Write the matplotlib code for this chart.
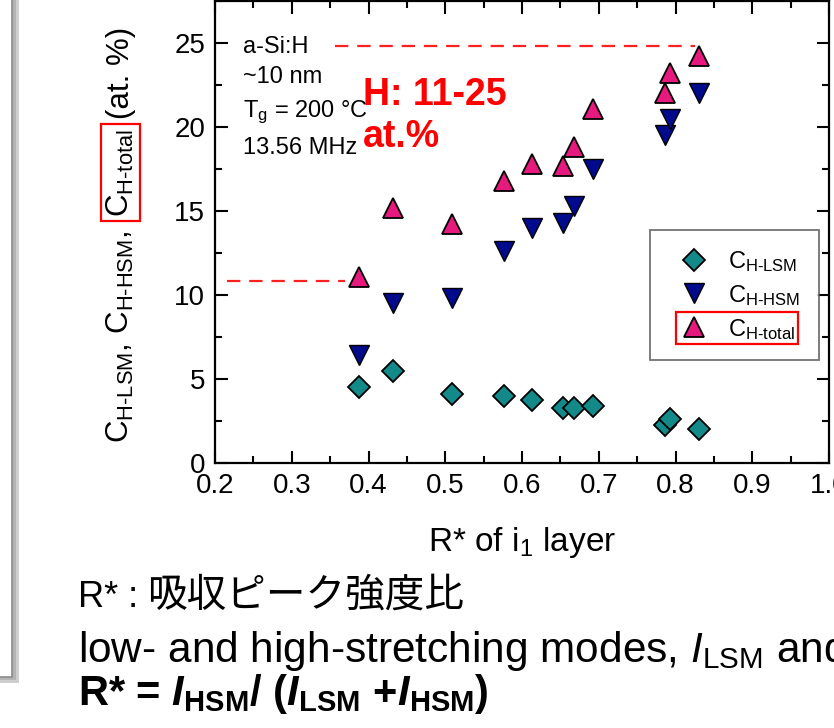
import matplotlib
matplotlib.use('Agg')
import matplotlib.pyplot as plt
from matplotlib.patches import Rectangle
from matplotlib.ticker import MultipleLocator, FormatStrFormatter

plt.rcParams['font.family'] = ['Liberation Sans', 'Noto Sans CJK JP', 'DejaVu Sans']
plt.rcParams['mathtext.fontset'] = 'custom'
plt.rcParams['mathtext.rm'] = 'Liberation Sans'
plt.rcParams['mathtext.sf'] = 'Liberation Sans'
plt.rcParams['mathtext.it'] = 'Liberation Sans:italic'
plt.rcParams['mathtext.bf'] = 'Liberation Sans:bold'
plt.rcParams['mathtext.bfit'] = 'Liberation Sans:italic:bold'

# ---------------- data ----------------
r_star = [0.388, 0.432, 0.509, 0.577, 0.613, 0.653, 0.668, 0.692, 0.786, 0.793, 0.830]
c_lsm = [4.5, 5.5, 4.1, 4.0, 3.75, 3.3, 3.3, 3.4, 2.25, 2.6, 2.0]
c_hsm = [6.4, 9.5, 9.85, 12.6, 14.0, 14.3, 15.3, 17.5, 19.5, 20.5, 22.0]
c_total = [11.1, 15.2, 14.2, 16.8, 17.8, 17.7, 18.8, 21.05, 22.0, 23.2, 24.2]

series_labels = [r'C$_{\text{H-LSM}}$', r'C$_{\text{H-HSM}}$', r'C$_{\text{H-total}}$']
x_ticks = [0.2, 0.3, 0.4, 0.5, 0.6, 0.7, 0.8, 0.9, 1.0]
y_ticks = [0, 5, 10, 15, 20, 25]

# guide lines (H range 11-25 at.%)
upper_line_y = 24.8
upper_line_x = [0.356, 0.826]
lower_line_y = 10.83
lower_line_x = [0.216, 0.369]

W, H = 834, 728
fig = plt.figure(figsize=(W / 100, H / 100), dpi=100)
fig.patch.set_facecolor('white')

def fx(px):
    return px / W

def fy(py):
    return 1 - py / H

# slide box edge on the left
shadow = Rectangle((fx(-50), fy(683)), fx(50 + 19), fy(-20) - fy(683),
                   transform=fig.transFigure, facecolor='#cfcfcf', edgecolor='none', zorder=0)
fig.patches.append(shadow)
shadow2 = Rectangle((fx(-50), fy(680)), fx(50 + 16), fy(-20) - fy(680),
                    transform=fig.transFigure, facecolor='#b4b4b4', edgecolor='none', zorder=0)
fig.patches.append(shadow2)
box = Rectangle((fx(-50), fy(677)), fx(50 + 12), fy(-20) - fy(677),
                transform=fig.transFigure, facecolor='white', edgecolor='#8a8a8a', lw=1.2, zorder=1)
fig.patches.append(box)

ax = fig.add_axes([fx(215), fy(463), fx(829 - 215), (463 - 1) / H])
ax.set_xlim(0.2, 1.0)
ax.set_ylim(0, 27.5)

teal = '#13898a'
navy = '#000a8c'
pink = '#e6197f'

l1, = ax.plot(r_star, c_lsm, linestyle='none', marker='D', ms=11, mfc=teal, mec='black', mew=1.3,
              label=series_labels[0], zorder=3)
l2, = ax.plot(r_star, c_hsm, linestyle='none', marker='v', ms=15, mfc=navy, mec='black', mew=1.0,
              label=series_labels[1], zorder=3)
l3, = ax.plot(r_star, c_total, linestyle='none', marker='^', ms=15, mfc=pink, mec='black', mew=1.3,
              label=series_labels[2], zorder=4)

ax.plot(upper_line_x, [upper_line_y] * 2, color='#ff2020', lw=1.6, dashes=(6, 4), zorder=2)
ax.plot(lower_line_x, [lower_line_y] * 2, color='#ff2020', lw=1.6, dashes=(6, 4), zorder=2)

ax.set_xticks(x_ticks)
ax.set_yticks(y_ticks)
ax.xaxis.set_minor_locator(MultipleLocator(0.05))
ax.yaxis.set_minor_locator(MultipleLocator(2.5))
ax.xaxis.set_major_formatter(FormatStrFormatter('%.1f'))
ax.yaxis.set_major_formatter(FormatStrFormatter('%d'))
ax.tick_params(which='both', direction='in', top=True, right=True, width=1.5, colors='black')
ax.tick_params(which='major', length=9, labelsize=20, pad=7)
ax.tick_params(which='minor', length=5)
for s in ax.spines.values():
    s.set_linewidth(1.6)

ax.set_xlabel(r'R* of i$_\mathregular{1}$ layer', fontsize=24)
ax.xaxis.set_label_coords(0.5, (463 - 525) / 462)
ax.xaxis.label.set_va('top')

# annotations
ann_x = (243 - 215) / 614
for txt, by in [('a-Si:H', 53), ('~10 nm', 83), (r'T$_\mathregular{g}$ = 200 °C', 117), ('13.56 MHz', 154)]:
    ax.text(ann_x, (463 - by) / 462, txt, transform=ax.transAxes, fontsize=17, va='baseline', ha='left')
ax.text((363 - 215) / 614, (463 - 105) / 462, 'H: 11-25', transform=ax.transAxes, fontsize=27,
        fontweight='bold', color='#ff0000', va='baseline', ha='left')
ax.text((363 - 215) / 614, (463 - 147) / 462, 'at.%', transform=ax.transAxes, fontsize=27,
        fontweight='bold', color='#ff0000', va='baseline', ha='left')

leg = ax.legend(handles=[l1, l2, l3], loc='upper left', bbox_to_anchor=(fx(650), fy(230)),
                bbox_transform=fig.transFigure, fontsize=17, frameon=True, fancybox=False,
                borderpad=0.8, handlelength=2.1, handletextpad=0.4, labelspacing=0.38,
                borderaxespad=0)
leg.get_frame().set_edgecolor('#505050')
leg.get_frame().set_linewidth(1.3)

# bottom text
fig.text(fx(78), fy(607), 'R* :', fontsize=26, ha='left', va='baseline')
fig.text(fx(147), fy(607), '吸収ピーク強度比', fontsize=28.5, ha='left', va='baseline',
         family=['Noto Sans CJK JP', 'DejaVu Sans'])
fig.text(fx(78), fy(662), r'low- and high-stretching modes, $I_\mathregular{LSM}$ and', fontsize=30.5,
         ha='left', va='baseline')
fig.text(fx(78), fy(705),
         r'R* = $\mathbfit{I}_{\mathbf{HSM}}$/ ($\mathbfit{I}_{\mathbf{LSM}}$ +$\mathbfit{I}_{\mathbf{HSM}}$)',
         fontsize=30, fontweight='bold', ha='left', va='baseline')

# y label in pieces (middle piece boxed in red)
fig.canvas.draw()
r = fig.canvas.get_renderer()
ylab_x = fx(129)
kw = dict(rotation=90, rotation_mode='anchor', ha='left', va='baseline', fontsize=22.5)
t1 = fig.text(ylab_x, fy(443), r'C$_{\text{H-LSM}}$, C$_{\text{H-HSM}}$,', **kw)
bb1 = t1.get_window_extent(r)
t2 = fig.text(ylab_x, (bb1.y1 + 14) / fig.bbox.height, r'C$_{\text{H-total}}$',
              bbox=dict(boxstyle='square,pad=0.14', fc='none', ec='#ff0000', lw=1.6), **kw)
bb2 = t2.get_window_extent(r)
t3 = fig.text(ylab_x, (bb2.y1 + 10) / fig.bbox.height, '(at. %)', **kw)

# red box around third legend entry
fig.canvas.draw()
hb = leg.legend_handles[2].get_window_extent(r)
tb = leg.get_texts()[2].get_window_extent(r)
cy = (hb.y0 + hb.y1) / 2
cx = (hb.x0 + hb.x1) / 2
x0 = cx - 18
x1 = tb.x1 + 3
y0 = min(cy - 15, tb.y0 - 2)
y1 = max(cy + 15, tb.y1 + 2)
fig.patches.append(Rectangle((x0 / fig.bbox.width, y0 / fig.bbox.height),
                             (x1 - x0) / fig.bbox.width, (y1 - y0) / fig.bbox.height,
                             transform=fig.transFigure, fill=False, ec='#ff0000', lw=1.6, zorder=10))

fig.savefig('out.png', dpi=100)
